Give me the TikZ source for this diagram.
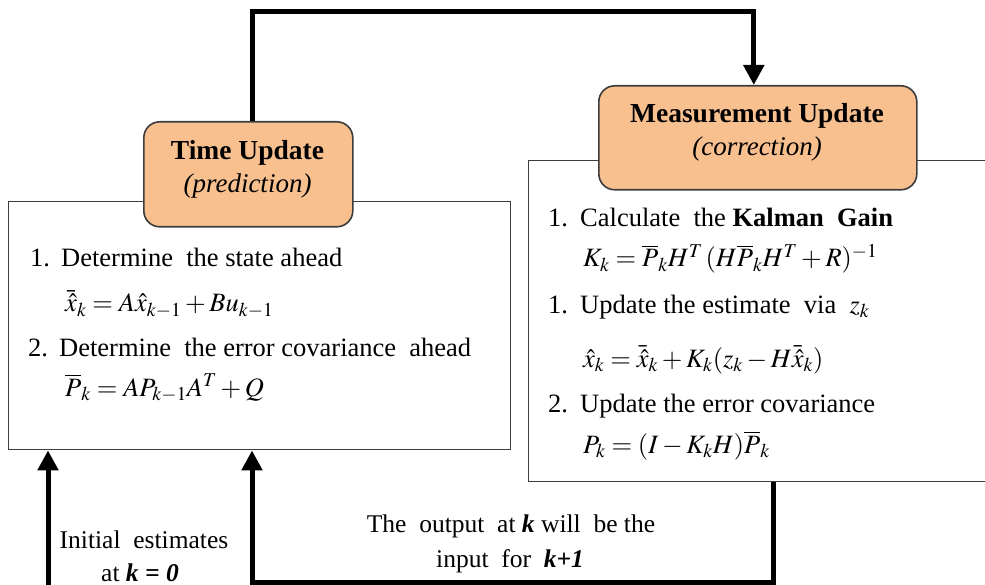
\documentclass[tikz,border=0pt]{standalone}
\usepackage{mathptmx}
\usepackage{fontspec}
\setmainfont{Liberation Serif}
\usetikzlibrary{arrows.meta}

\definecolor{boxorange}{RGB}{249,192,143}
\definecolor{edgegray}{RGB}{60,60,60}

% fixed-width slot for the list numbers
\newcommand{\listnum}[2][31pt]{\makebox[#1][l]{#2}}

\begin{document}
\begin{tikzpicture}[x=1pt,y=-1pt,
  panel/.style={draw=edgegray, line width=1.4pt, fill=white, inner sep=0pt, anchor=north west},
  phase/.style={draw=edgegray, line width=1.6pt, fill=boxorange, rounded corners=16pt, inner sep=0pt, anchor=north west},
  flow/.style={line width=5pt, -{Triangle[width=20pt,length=20pt]}},
  body/.style={inner sep=0pt, anchor=base west, font=\fontsize{26.5}{30}\selectfont},
  title/.style={inner sep=0pt, anchor=base, font=\fontsize{27.5}{30}\selectfont\bfseries},
  subtitle/.style={inner sep=0pt, anchor=base, font=\fontsize{27}{30}\selectfont\itshape},
  note/.style={inner sep=0pt, anchor=base, font=\fontsize{25.5}{30}\selectfont}]

\useasboundingbox (0,0) rectangle (985,585);
\clip (0,0) rectangle (985,585);

% panels holding the steps of each phase
\node[panel, minimum width=502pt, minimum height=248pt] (lb) at (8,201) {};
\node[panel, minimum width=480pt, minimum height=321pt] (rb) at (528,160) {};

% phase headers
\node[phase, minimum width=209pt, minimum height=105pt] (tu) at (143,121) {};
\node[phase, minimum width=318pt, minimum height=104pt] (mu) at (598,85) {};

\node[title] (tut) at (247.5,160) {Time Update};
\node[subtitle] (tus) at (247.5,193) {(prediction)};
\node[title] (mut) at (757,123) {Measurement Update};
\node[subtitle] (mus) at (757,156) {(correction)};

% time update steps
\node[body] (p1) at (30,267) {\listnum{1.}Determine\ \ the state ahead};
\node[body] (p1f) at (65,312) {$\bar{\hat{x}}_k = A\hat{x}_{k-1} + Bu_{k-1}$};
\node[body] (p2) at (28,356) {\listnum[31pt]{2.}Determine\ \ the error covariance\ \ ahead};
\node[body] (p2f) at (65,396) {$\overline{P}_k = AP_{k-1}A^T + Q$};

% measurement update steps
\node[body] (c1) at (548,227) {\listnum[32pt]{1.}Calculate\ \ the \textbf{Kalman\ \ Gain}};
\node[body] (c1f) at (583,267) {$K_k = \overline{P}_k H^T\, (H\overline{P}_k H^T + R)^{-1}$};
\node[body] (c2) at (548,313) {\listnum[32pt]{1.}Update the estimate\ \ via\ \ $z_k$};
\node[body] (c2f) at (583,367) {$\hat{x}_k = \bar{\hat{x}}_k + K_k(z_k - H\bar{\hat{x}}_k)$};
\node[body] (c3) at (548,412) {\listnum[32pt]{2.}Update the error covariance};
\node[body] (c3f) at (583,453) {$P_k = (I - K_k H)\overline{P}_k$};

% loop connectors
\draw[flow] ([xshift=4.5pt]tu.north) -- ([xshift=4.5pt]tu.north |- 0,12) -| ([xshift=-4pt]mu.north);

\coordinate (init) at (48,585);
\draw[flow] (init) -- (init |- lb.south);

\coordinate (out) at ([xshift=245pt]rb.south west);
\coordinate (loop) at (773,582);
\draw[flow] (out) -- (loop) -| ([xshift=244pt]lb.south west);

% connector labels
\node[note] (n1) at (144,548) {Initial\ \ estimates};
\node[note] (n2) at (140,581) {at \textbf{\textit{k = 0}}};
\node[note] (n3) at (511,532) {The\ \ output\ \ at \textbf{\textit{k}} will\ \ be the};
\node[note] (n4) at (510,567) {input\ \ for\ \ \textbf{\textit{k+1}}};

\end{tikzpicture}
\end{document}
